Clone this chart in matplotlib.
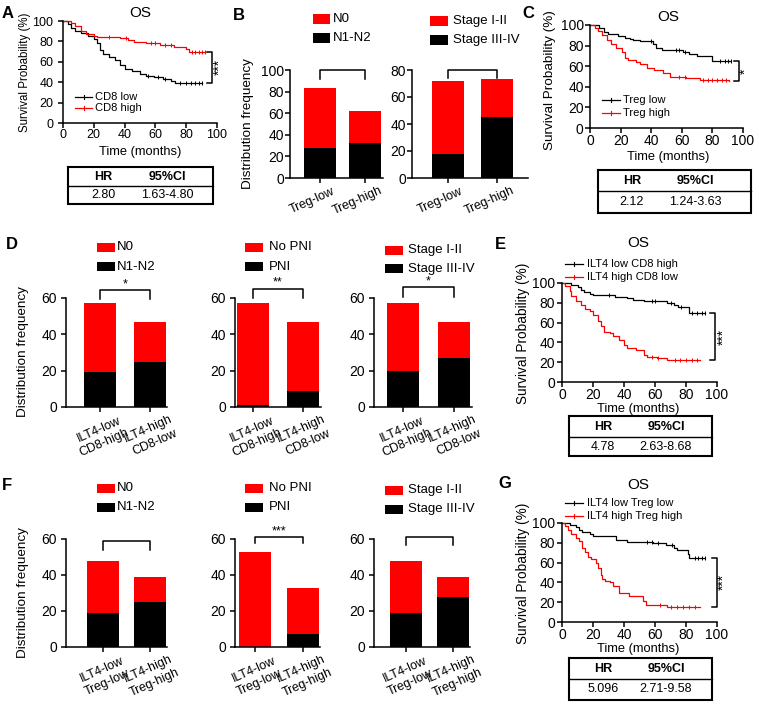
import matplotlib
matplotlib.use("Agg")
import matplotlib.pyplot as plt
import numpy as np
from matplotlib.patches import Rectangle
from matplotlib.lines import Line2D
from matplotlib.transforms import ScaledTranslation

plt.rcParams['font.family'] = ['Liberation Sans', 'DejaVu Sans']

# ---------------- DATA ----------------
# Kaplan-Meier step data (time in months, survival in %)
a_low_t = [0, 3, 5, 8, 12, 16, 20, 22, 24, 26, 30, 34, 37, 40, 45, 50, 54, 59, 65, 70, 73, 90]
a_low_s = [100, 97, 93, 90, 88, 85, 82, 78, 72, 68, 65, 62, 57, 53, 51, 48, 46, 45, 43, 41, 39, 39]
a_low_c = [55, 62, 66, 76, 80, 83, 86, 88, 90]
a_high_t = [0, 5, 8, 12, 15, 20, 22, 37, 42, 46, 54, 63, 72, 80, 82, 92]
a_high_s = [100, 98, 95, 90, 87, 85, 84, 83, 81, 79, 78, 76, 75, 73, 70, 70]
a_high_c = [30, 41, 57, 60, 66, 70, 84, 86, 88, 90, 92]

c_low_t = [0, 6, 9, 12, 18, 23, 26, 28, 33, 41, 43, 47, 61, 65, 70, 80, 92]
c_low_s = [100, 97, 93, 91, 89, 87, 86, 85, 84, 82, 78, 76, 74, 72, 70, 65, 65]
c_low_c = [40, 56, 58, 62, 85, 88, 90, 92]
c_high_t = [0, 3, 5, 8, 11, 14, 17, 21, 23, 25, 30, 33, 37, 42, 48, 52, 63, 72, 91]
c_high_s = [100, 97, 94, 90, 85, 82, 78, 74, 68, 66, 64, 62, 58, 56, 53, 50, 49, 47, 46]
c_high_c = [58, 62, 74, 77, 80, 83, 86, 89]

e_low_t = [0, 6, 10, 12, 14, 18, 20, 34, 42, 46, 53, 68, 72, 75, 82, 92]
e_low_s = [100, 98, 96, 93, 91, 89, 88, 86, 85, 83, 82, 80, 78, 76, 70, 70]
e_low_c = [30, 58, 60, 70, 77, 84, 87, 90, 92]
e_high_t = [0, 2, 5, 6, 9, 12, 15, 18, 20, 23, 25, 27, 31, 33, 37, 40, 42, 48, 53, 55, 61, 68, 89]
e_high_s = [100, 97, 92, 87, 82, 78, 74, 72, 68, 62, 57, 51, 50, 46, 42, 37, 34, 32, 27, 25, 24, 22, 22]
e_high_c = [58, 62, 73, 76, 80, 84, 87]

g_low_t = [0, 5, 9, 11, 13, 18, 20, 35, 42, 59, 67, 72, 74, 81, 82, 92]
g_low_s = [100, 98, 96, 93, 91, 89, 87, 83, 81, 80, 78, 75, 73, 69, 65, 65]
g_low_c = [55, 58, 62, 71, 86, 88, 90, 92]
g_high_t = [0, 2, 4, 6, 9, 11, 13, 15, 17, 19, 22, 23, 25, 26, 28, 31, 33, 37, 43, 52, 54, 68, 89]
g_high_s = [100, 97, 93, 89, 85, 82, 75, 71, 66, 64, 60, 55, 47, 43, 41, 40, 36, 29, 26, 21, 17, 15, 15]
g_high_c = [63, 70, 74, 78, 82, 86]

# Stacked bar data: totals and black (bottom) counts
b1_cats = ["Treg-low", "Treg-high"]
b1_total = [83, 62]
b1_black = [28, 32]
b2_total = [72, 73]
b2_black = [18, 45]

d_cats = ["ILT4-low\nCD8-high", "ILT4-high\nCD8-low"]
d1_total = [57, 47]
d1_black = [19, 25]
d2_total = [57, 47]
d2_black = [1, 9]
d3_total = [57, 47]
d3_black = [20, 27]

f_cats = ["ILT4-low\nTreg-low", "ILT4-high\nTreg-high"]
f1_total = [48, 39]
f1_black = [19, 25]
f2_total = [53, 33]
f2_black = [0, 7]
f3_total = [48, 39]
f3_black = [19, 28]

# ---------------- FIGURE ----------------
W, H = 759, 705
fig = plt.figure(figsize=(W / 100, H / 100), dpi=100)
RED = '#ff0000'
FSL = 9.5       # bar legends
FSK = 8         # KM legends
FST = 9         # tables
FSX = 9.3       # "Time (months)"


def px_ax(l, t, r, b):
    return fig.add_axes([l / W, 1 - b / H, (r - l) / W, (b - t) / H])


def ftext(x, y, s, **kw):
    fig.text(x / W, 1 - y / H, s, **kw)


def fline(xs, ys, **kw):
    fig.add_artist(Line2D([x / W for x in xs], [1 - y / H for y in ys], transform=fig.transFigure, **kw))


def frect(l, t, r, b, color):
    fig.add_artist(Rectangle((l / W, 1 - b / H), (r - l) / W, (b - t) / H, transform=fig.transFigure,
                             facecolor=color, edgecolor='none'))


def style(ax, fs, ypad, xpad=1.0):
    for s in ['top', 'right']:
        ax.spines[s].set_visible(False)
    for s in ['left', 'bottom']:
        ax.spines[s].set_linewidth(1.1)
    ax.tick_params(axis='both', length=3.5, width=1.1, labelsize=fs)
    ax.tick_params(axis='y', pad=ypad)
    ax.tick_params(axis='x', pad=xpad)


def surv_at(t, s, c):
    t = np.asarray(t); s = np.asarray(s)
    idx = np.searchsorted(t, c, side='right') - 1
    return s[idx]


def km_panel(ax, t1, s1, c1, t2, s2, c2, fs, ypad):
    style(ax, fs, ypad)
    ax.step(t1, s1, where='post', color='black', lw=0.9, clip_on=False)
    ax.step(t2, s2, where='post', color=RED, lw=0.9, clip_on=False)
    ax.plot(c1, surv_at(t1, s1, c1), '|', color='black', ms=3, mew=0.7, clip_on=False)
    ax.plot(c2, surv_at(t2, s2, c2), '|', color=RED, ms=3, mew=0.7, clip_on=False)
    ax.set_xlim(0, 100)
    ax.set_ylim(0, 100)
    ax.set_xticks([0, 20, 40, 60, 80, 100])
    ax.set_yticks([0, 20, 40, 60, 80, 100])


def km_bracket(ax, x, y1, y2, stars, sx):
    ax.plot([x - 3.3, x, x, x - 3.3], [y1, y1, y2, y2], color='black', lw=1.1, clip_on=False)
    ax.text(sx, (y1 + y2) / 2, stars, rotation=90, ha='center', va='center', fontsize=10, clip_on=False)


def km_legend(x1, x2, y, color, label, tx):
    fline([x1, x2], [y, y], color=color, lw=0.9)
    xm = (x1 + x2) / 2
    fline([xm, xm], [y - 2, y + 2], color=color, lw=0.8)
    ftext(tx, y, label, fontsize=FSK, va='center', ha='left')


def table(l, t, r, b, div, hx, cx, hr, ci):
    fline([l, r, r, l, l], [t, t, b, b, t], color='black', lw=1.5, solid_joinstyle='miter')
    fline([l, r], [div, div], color='black', lw=1.0)
    ym1 = (t + div) / 2
    ym2 = (div + b) / 2
    ftext(hx, ym1, "HR", fontsize=FST, fontweight='bold', ha='center', va='center')
    ftext(cx, ym1, "95%CI", fontsize=FST, fontweight='bold', ha='center', va='center')
    ftext(hx, ym2, hr, fontsize=FST, ha='center', va='center')
    ftext(cx, ym2, ci, fontsize=FST, ha='center', va='center')


def bar_panel(l, t, r, b, c1, c2, total, black, cats, ymax, yticks, br, stars, ypad=3):
    ax = px_ax(l, t, r, b)
    style(ax, 10, ypad)
    sp = c2 - c1
    x = np.arange(len(total))
    wdt = 32 / sp
    red = [tt - bb for tt, bb in zip(total, black)]
    ax.bar(x, black, width=wdt, color='black')
    ax.bar(x, red, bottom=black, width=wdt, color=RED)
    ax.set_xlim((l - c1) / sp, (r - c1) / sp)
    ax.set_ylim(0, ymax)
    ax.set_yticks(yticks)
    ax.set_xticks(x)
    ax.set_xticklabels([])
    two = '\n' in cats[0]
    dx, dy = (1.5, 29) if two else (-7.5, 22.5)
    trans = ax.get_xaxis_transform() + ScaledTranslation(dx / 100, -dy / 100, fig.dpi_scale_trans)
    for xi, lab in zip(x, cats):
        ax.text(xi, 0, lab, transform=trans, rotation=24, ha='center', va='center',
                rotation_mode='anchor', fontsize=9, multialignment='center', linespacing=1.3)
    top, leg = br
    ax.plot([0, 0, 1, 1], [leg, top, top, leg], color='black', lw=1.1, clip_on=False)
    if stars:
        ax.text(0.5, top, stars, ha='center', va='bottom', fontsize=9, clip_on=False)
    return ax


def bar_legend(pl, pr, y1, y2, tx, lab1, lab2):
    frect(pl, y1 - 4.5, pr, y1 + 4.5, RED)
    frect(pl, y2 - 4.5, pr, y2 + 4.5, 'black')
    ftext(tx, y1, lab1, fontsize=FSL, va='center', ha='left')
    ftext(tx, y2, lab2, fontsize=FSL, va='center', ha='left')


# ---------- Panel A ----------
axA = px_ax(63, 21, 217, 123)
km_panel(axA, a_low_t, a_low_s, a_low_c, a_high_t, a_high_s, a_high_c, 9, 3.5)
km_bracket(axA, 96.8, 70, 39.5, "***", 101.5)
ftext(140, 13, "OS", fontsize=11, ha='center', va='center')
ftext(140, 152, "Time (months)", fontsize=FSX, ha='center', va='center')
ftext(25, 72, "Survival Probability (%)", fontsize=8.3, rotation=90, ha='center', va='center')
km_legend(75, 92, 97, 'black', "CD8 low", 95)
km_legend(75, 92, 108, RED, "CD8 high", 95)
table(68, 167, 213, 204, 186, 103, 167, "2.80", "1.63-4.80")

# ---------- Panel B ----------
bar_panel(290, 70, 383, 178, 320, 365, b1_total, b1_black, b1_cats, 100, [0, 20, 40, 60, 80, 100], (100, 92), "", ypad=0.8)
bar_panel(412, 70, 528, 178, 448, 497, b2_total, b2_black, b1_cats, 80, [0, 20, 40, 60, 80], (80, 74), "", ypad=0.8)
ftext(248, 124, "Distribution frequency", fontsize=9.7, rotation=90, ha='center', va='center')
bar_legend(313, 330, 19, 38, 333, "N0", "N1-N2")
bar_legend(430, 448, 21, 40, 453, "Stage I-II", "Stage III-IV")

# ---------- Panel C ----------
axC = px_ax(590, 25, 743, 128)
km_panel(axC, c_low_t, c_low_s, c_low_c, c_high_t, c_high_s, c_high_c, 10, 1.0)
km_bracket(axC, 97.4, 65, 46, "*", 101.5)
ftext(668, 17, "OS", fontsize=11, ha='center', va='center')
ftext(668, 157, "Time (months)", fontsize=FSX, ha='center', va='center')
ftext(550, 80, "Survival Probability (%)", fontsize=9.7, rotation=90, ha='center', va='center')
km_legend(602, 620, 100, 'black', "Treg low", 623)
km_legend(602, 620, 113, RED, "Treg high", 623)
table(598, 170, 751, 213, 191, 632, 695, "2.12", "1.24-3.63")

# ---------- Panel D ----------
bar_panel(66, 298, 167, 407, 100, 150, d1_total, d1_black, d_cats, 60, [0, 20, 40, 60], (64.4, 59.5), "*")
bar_panel(235, 298, 321, 407, 253, 303, d2_total, d2_black, d_cats, 60, [0, 20, 40, 60], (65, 60), "**")
bar_panel(374, 298, 472, 407, 403, 454, d3_total, d3_black, d_cats, 60, [0, 20, 40, 60], (66, 60.5), "*")
ftext(23, 352, "Distribution frequency", fontsize=9.7, rotation=90, ha='center', va='center')
bar_legend(97, 115, 247, 267, 117, "N0", "N1-N2")
bar_legend(245, 263, 247, 267, 269, "No PNI", "PNI")
bar_legend(385, 403, 250, 269, 408, "Stage I-II", "Stage III-IV")

# ---------- Panel E ----------
axE = px_ax(562, 283, 717, 382)
km_panel(axE, e_low_t, e_low_s, e_low_c, e_high_t, e_high_s, e_high_c, 10, 1.5)
km_bracket(axE, 98.7, 70, 22, "***", 104)
ftext(638, 243, "OS", fontsize=11, ha='center', va='center')
ftext(638, 409, "Time (months)", fontsize=FSX, ha='center', va='center')
ftext(523, 333, "Survival Probability (%)", fontsize=9.8, rotation=90, ha='center', va='center')
km_legend(565, 583, 264, 'black', "ILT4 low CD8 high", 587)
km_legend(565, 583, 277, RED, "ILT4 high CD8 low", 587)
table(569, 416, 712, 456, 437, 603, 666, "4.78", "2.63-8.68")

# ---------- Panel F ----------
bar_panel(66, 539, 167, 647, 103, 150, f1_total, f1_black, f_cats, 60, [0, 20, 40, 60], (58.9, 53.9), "")
bar_panel(235, 539, 320, 647, 255, 303, f2_total, f2_black, f_cats, 60, [0, 20, 40, 60], (61.1, 57.8), "***")
bar_panel(374, 539, 470, 647, 406, 453, f3_total, f3_black, f_cats, 60, [0, 20, 40, 60], (61.1, 56.7), "")
ftext(23, 593, "Distribution frequency", fontsize=9.7, rotation=90, ha='center', va='center')
bar_legend(97, 115, 488, 507, 117, "N0", "N1-N2")
bar_legend(245, 263, 488, 507, 269, "No PNI", "PNI")
bar_legend(385, 403, 490, 509, 408, "Stage I-II", "Stage III-IV")

# ---------- Panel G ----------
axG = px_ax(562, 523, 717, 622)
km_panel(axG, g_low_t, g_low_s, g_low_c, g_high_t, g_high_s, g_high_c, 10, 1.5)
km_bracket(axG, 100, 65, 15, "***", 104)
ftext(638, 485, "OS", fontsize=11, ha='center', va='center')
ftext(638, 649, "Time (months)", fontsize=FSX, ha='center', va='center')
ftext(523, 573, "Survival Probability (%)", fontsize=9.8, rotation=90, ha='center', va='center')
km_legend(565, 583, 503, 'black', "ILT4 low Treg low", 587)
km_legend(565, 583, 516, RED, "ILT4 high Treg high", 587)
table(569, 658, 712, 700, 679, 603, 666, "5.096", "2.71-9.58")

# ---------- Panel letters ----------
for lab, x, y in [("A", 8, 13), ("B", 239, 15), ("C", 528, 13), ("D", 12, 245),
                  ("E", 500, 245), ("F", 7, 485), ("G", 505, 483)]:
    ftext(x, y, lab, fontsize=12, fontweight='bold', ha='center', va='center')

fig.savefig("out.png", dpi=100)
